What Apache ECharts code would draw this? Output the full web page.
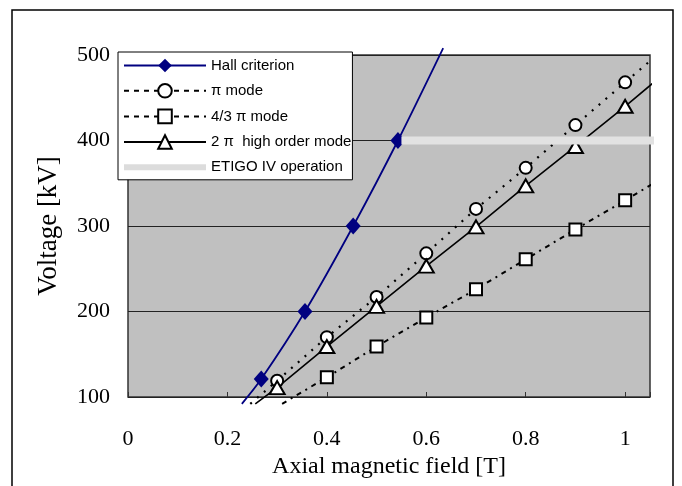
<!DOCTYPE html>
<html>
<head>
<meta charset="utf-8">
<script src="https://cdn.jsdelivr.net/npm/echarts@6/dist/echarts.min.js"></script>
<style>
  html, body { margin: 0; padding: 0; background: #fff; }
  #main { width: 682px; height: 486px; }
</style>
</head>
<body>
<div id="main"></div>
<script>
// values, [field T, voltage kV]
var hallPoints = [[0.229, 92], [0.268, 121], [0.356, 200], [0.453, 300], [0.543, 400], [0.634, 508]];
var hallMarked = [false, true, true, true, true, false];
var piPoints = [[0.246, 92], [0.3, 119], [0.4, 170], [0.5, 217], [0.6, 268], [0.7, 320], [0.8, 368], [0.9, 418], [1.0, 468], [1.066, 501]];
var pi43Points = [[0.31, 92], [0.4, 123], [0.5, 159], [0.6, 193], [0.7, 226], [0.8, 261], [0.9, 296], [1.0, 330], [1.066, 353]];
var pi2Points = [[0.256, 92], [0.3, 111], [0.4, 159], [0.5, 206], [0.6, 253], [0.7, 299], [0.8, 347], [0.9, 393], [1.0, 440], [1.066, 472]];
var etigoPoints = [[0.55, 400], [1.066, 400]];
var seriesNames = ['Hall criterion', 'π mode', '4/3 π mode', '2 π  high order mode', 'ETIGO IV operation'];

// ends of the trend lines carry no marker
function marks(pts, flags) {
    return pts.map(function (p, i) {
        var on = flags ? flags[i] : (i > 0 && i < pts.length - 1);
        return on ? p : { value: p, symbol: 'none' };
    });
}

var serif = 'Liberation Serif';
var option = {
    animation: false,
    graphic: [{
        type: 'rect',
        shape: { x: 12, y: 10, width: 661, height: 500 },
        style: { fill: 'none', stroke: '#000', lineWidth: 1.5 },
        z: -10
    }],
    legend: {
        data: [
            seriesNames[0],
            { name: seriesNames[1], lineStyle: { type: [5, 5] } },
            { name: seriesNames[2], lineStyle: { type: [5, 5] } },
            seriesNames[3],
            { name: seriesNames[4], icon: 'path://M0,0 L82,0 L82,6 L0,6 Z', itemStyle: { color: '#dcdcdc' } }
        ],
        orient: 'vertical',
        left: 118,
        top: 52,
        padding: [6, 1, 5, 5],
        itemWidth: 82,
        itemHeight: 17,
        itemGap: 10,
        itemTextGap: 3,
        backgroundColor: '#fff',
        borderColor: '#000',
        borderWidth: 1,
        borderRadius: 0,
        textStyle: { fontFamily: 'Liberation Sans', fontSize: 15, color: '#000' },
        z: 20
    },
    grid: {
        show: true,
        left: 128,
        right: 32,
        top: 55,
        bottom: 89,
        backgroundColor: '#c0c0c0',
        borderColor: '#333',
        borderWidth: 1.5
    },
    xAxis: {
        type: 'value',
        min: 0,
        max: 1.05,
        interval: 0.2,
        name: 'Axial magnetic field [T]',
        nameLocation: 'middle',
        nameGap: 58,
        nameTextStyle: { fontFamily: serif, fontSize: 24, color: '#000' },
        axisLine: { show: false },
        axisTick: { show: true, inside: true, length: 5, lineStyle: { color: '#333' } },
        axisLabel: {
            margin: 31,
            fontFamily: serif,
            fontSize: 22,
            color: '#000',
            formatter: function (v) {
                if (Math.abs(v * 5 - Math.round(v * 5)) > 1e-6) return '';
                return String(+v.toFixed(1));
            }
        },
        splitLine: { show: false }
    },
    yAxis: {
        type: 'value',
        min: 100,
        max: 500,
        interval: 100,
        name: 'Voltage [kV]',
        nameLocation: 'middle',
        nameGap: 66,
        nameTextStyle: { fontFamily: serif, fontSize: 27, color: '#000' },
        axisLine: { show: false },
        axisTick: { show: false },
        axisLabel: { margin: 18, fontFamily: serif, fontSize: 22, color: '#000' },
        splitLine: { show: true, lineStyle: { color: '#222', width: 1 } }
    },
    series: [
        {
            name: seriesNames[0],
            type: 'line',
            clip: false,
            smooth: 0.3,
            data: marks(hallPoints, hallMarked),
            symbol: 'diamond',
            symbolSize: [15, 17],
            itemStyle: { color: '#000080' },
            lineStyle: { color: '#000080', width: 1.8 },
            z: 5
        },
        {
            name: seriesNames[1],
            type: 'line',
            clip: false,
            data: marks(piPoints),
            symbol: 'circle',
            symbolSize: 12,
            itemStyle: { color: '#fff', borderColor: '#000', borderWidth: 2 },
            lineStyle: { color: '#000', width: 2.2, type: [2, 7] },
            z: 4
        },
        {
            name: seriesNames[2],
            type: 'line',
            clip: false,
            data: marks(pi43Points),
            symbol: 'rect',
            symbolSize: 12,
            itemStyle: { color: '#fff', borderColor: '#000', borderWidth: 2 },
            lineStyle: { color: '#000', width: 2, type: [5, 5, 2, 5] },
            z: 4
        },
        {
            name: seriesNames[3],
            type: 'line',
            clip: false,
            data: marks(pi2Points),
            symbol: 'triangle',
            symbolSize: [15, 13],
            itemStyle: { color: '#fff', borderColor: '#000', borderWidth: 2 },
            lineStyle: { color: '#000', width: 1.6 },
            z: 4
        },
        {
            name: seriesNames[4],
            type: 'line',
            clip: false,
            data: etigoPoints,
            symbol: 'none',
            itemStyle: { color: '#e2e2e2' },
            lineStyle: { color: '#e2e2e2', width: 8 },
            z: 6
        }
    ]
};

var myChart = echarts.init(document.getElementById('main'));
myChart.setOption(option);
</script>
</body>
</html>
